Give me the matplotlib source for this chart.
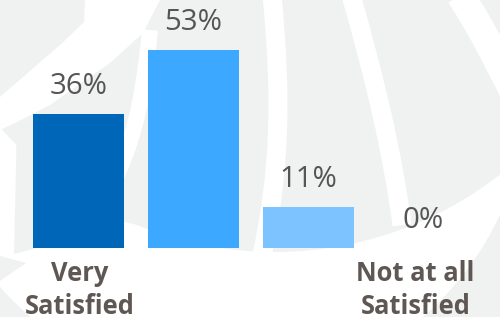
import matplotlib
matplotlib.use("Agg")
import matplotlib.pyplot as plt
import matplotlib.patches as patches
from matplotlib.path import Path

# satisfaction survey, share of answers per category
categories = ["Very Satisfied", "Satisfied", "Not Very Satisfied", "Not at all Satisfied"]
values = [36, 53, 11, 0]
value_labels = ["36%", "53%", "11%", "0%"]
tick_labels = ["Very\nSatisfied", "", "", "Not at all\nSatisfied"]
label_shift = [1, 0, 0, -8]  # px, small nudges of the category labels
colors = ["#0066b8", "#3da8ff", "#7dc3ff", "#b3dcff"]

BG = "#f0f1f1"
PX = 0.72  # points per pixel at dpi 100

fig = plt.figure(figsize=(5, 3.17), dpi=100)
fig.patch.set_facecolor(BG)

# faint globe watermark, drawn in pixel space behind the chart
bg = fig.add_axes([0, 0, 1, 1], zorder=0)
bg.set_xlim(0, 500)
bg.set_ylim(317, 0)
bg.axis("off")


def poly(pts, color):
    bg.add_patch(patches.Polygon(pts, closed=True, facecolor=color, edgecolor="none"))


def band(pts, w):
    path = Path(pts, [Path.MOVETO] + [Path.CURVE4] * (len(pts) - 1))
    bg.add_patch(patches.PathPatch(path, facecolor="none", edgecolor="white",
                                   linewidth=w * PX, capstyle="butt"))


bg.add_patch(patches.Circle((226.6, 88.7), 301, facecolor="white", edgecolor="none"))
bg.add_patch(patches.Circle((275, -113.5), 365.5, facecolor=BG, edgecolor="none"))
# left part of the globe
poly([(17, 122), (50, 105), (110, 63), (143, 33), (160, 0), (230, 0), (230, 245),
      (124, 222), (60, 242), (14, 254)], BG)
poly([(0, 256), (26, 263), (0, 281)], BG)
# top-left swoosh
poly([(85, 0), (84, 22), (60, 45), (0, 97), (0, 130), (17, 122), (50, 105),
      (110, 63), (143, 33), (160, 0)], "white")

band([(150, 30), (142, 110), (132, 170), (70, 252)], 16)
band([(272, -5), (282, 100), (280, 170), (262, 255)], 19)
band([(351, -5), (375, 80), (392, 150), (402, 225)], 19)
band([(460, -5), (480, 25), (495, 55), (515, 95)], 28)

ax = fig.add_axes([0.042, 0.2161, 0.92, 0.7088], zorder=1)
ax.patch.set_alpha(0)
x = list(range(len(categories)))
ax.bar(x, values, width=0.79, color=colors)
ax.set_xlim(-0.5, 3.5)
ax.set_ylim(0, 60)
for s in ax.spines.values():
    s.set_visible(False)
ax.set_xticks([])
ax.set_yticks([])

for i, (v, lbl) in enumerate(zip(values, value_labels)):
    ax.annotate(lbl, (i, v), xytext=(0, 20 * PX), textcoords="offset points",
                ha="center", va="baseline", fontsize=21.2, color="#555555",
                family="Open Sans")

for i, lbl in enumerate(tick_labels):
    if not lbl:
        continue
    ax.annotate(lbl, (i, 0), xycoords=("data", "axes fraction"),
                xytext=(label_shift[i] * PX, -66 * PX), textcoords="offset points",
                ha="center", va="baseline", fontsize=18.4, fontweight="bold",
                color="#5e5753", family="Open Sans", linespacing=1.33)

fig.savefig("out.png", dpi=100, facecolor=fig.get_facecolor())
